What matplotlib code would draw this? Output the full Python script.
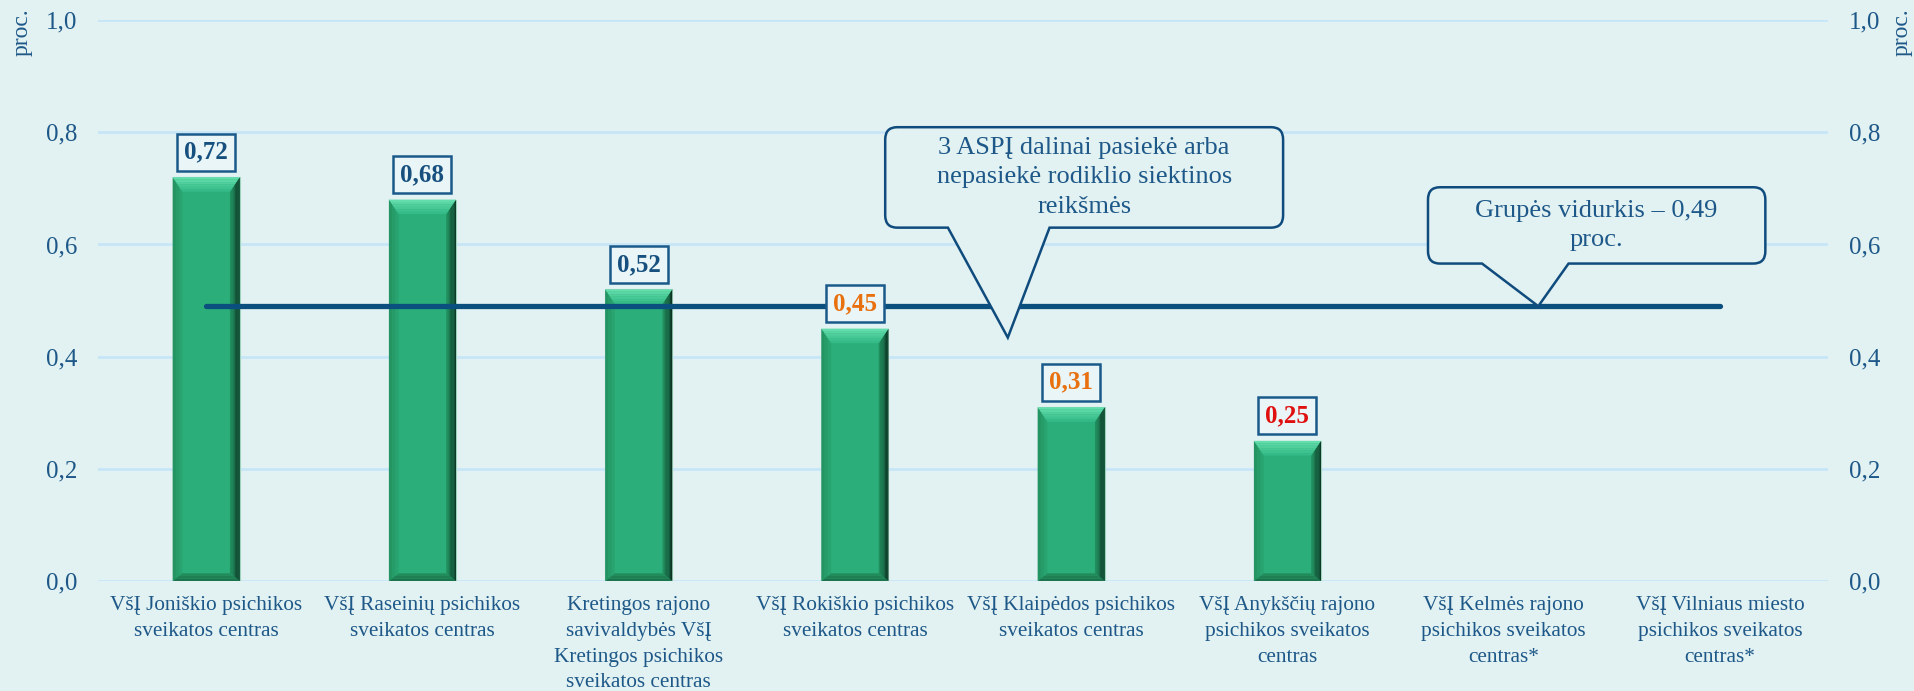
import numpy as np
import matplotlib
matplotlib.use("Agg")
import matplotlib.pyplot as plt
from matplotlib.path import Path
from matplotlib.patches import PathPatch, Polygon
from matplotlib.colors import to_rgb

plt.rcParams['font.family'] = ['Liberation Serif', 'DejaVu Serif']

# data
categories = [
    "VšĮ Joniškio psichikos\nsveikatos centras",
    "VšĮ Raseinių psichikos\nsveikatos centras",
    "Kretingos rajono\nsavivaldybės VšĮ\nKretingos psichikos\nsveikatos centras",
    "VšĮ Rokiškio psichikos\nsveikatos centras",
    "VšĮ Klaipėdos psichikos\nsveikatos centras",
    "VšĮ Anykščių rajono\npsichikos sveikatos\ncentras",
    "VšĮ Kelmės rajono\npsichikos sveikatos\ncentras*",
    "VšĮ Vilniaus miesto\npsichikos sveikatos\ncentras*",
]
values = [0.72, 0.68, 0.52, 0.45, 0.31, 0.25, np.nan, np.nan]
value_labels = ["0,72", "0,68", "0,52", "0,45", "0,31", "0,25", "", ""]
label_status = ["ok", "ok", "ok", "warn", "warn", "bad", "", ""]
group_avg = 0.49
yticks = [0.0, 0.2, 0.4, 0.6, 0.8, 1.0]
ytick_labels = ["0,0", "0,2", "0,4", "0,6", "0,8", "1,0"]
note_low = "3 ASPĮ dalinai pasiekė arba\nnepasiekė rodiklio siektinos\nreikšmės"
note_avg = "Grupės vidurkis – 0,49\nproc."

BG = "#e2f1f2"
TXT = "#1d5888"
DARK = "#0f4c7d"
status_colors = {"ok": "#17507f", "warn": "#e8700e", "bad": "#e01010"}


def mix(c1, c2, t):
    a, b = np.array(to_rgb(c1)), np.array(to_rgb(c2))
    return tuple(a + (b - a) * t)


def shaded_quad(ax, outer, inner, c_in, c_out, n=6):
    # outer / inner: two points each (edge segments), banded gradient between them
    o0, o1 = np.array(outer[0]), np.array(outer[1])
    i0, i1 = np.array(inner[0]), np.array(inner[1])
    for k in range(n):
        t0, t1 = k / n, (k + 1) / n
        p0 = i0 + (o0 - i0) * t0
        p1 = i1 + (o1 - i1) * t0
        q0 = i0 + (o0 - i0) * t1
        q1 = i1 + (o1 - i1) * t1
        ax.add_patch(Polygon([p0, p1, q1, q0], closed=True, lw=0,
                             fc=mix(c_in, c_out, (t0 + t1) / 2), zorder=2.1))


def callout(ax, box, base, tip, text, r=(0.055, 0.022)):
    x0, x1, y0, y1 = box
    rx, ry = r
    verts = [(x0 + rx, y1), (x1 - rx, y1), (x1, y1), (x1, y1 - ry),
             (x1, y0 + ry), (x1, y0), (x1 - rx, y0),
             (base[1], y0), tip, (base[0], y0),
             (x0 + rx, y0), (x0, y0), (x0, y0 + ry),
             (x0, y1 - ry), (x0, y1), (x0 + rx, y1), (x0 + rx, y1)]
    codes = [Path.MOVETO, Path.LINETO, Path.CURVE3, Path.CURVE3,
             Path.LINETO, Path.CURVE3, Path.CURVE3,
             Path.LINETO, Path.LINETO, Path.LINETO,
             Path.LINETO, Path.CURVE3, Path.CURVE3,
             Path.LINETO, Path.CURVE3, Path.CURVE3, Path.CLOSEPOLY]
    ax.add_patch(PathPatch(Path(verts, codes), fc=BG, ec=DARK, lw=1.8, zorder=5))
    ax.text((x0 + x1) / 2, (y0 + y1) / 2, text, ha="center", va="center",
            fontsize=19, color=TXT, linespacing=1.45, zorder=6)


fig = plt.figure(figsize=(19.15, 6.91), dpi=100)
fig.patch.set_facecolor(BG)
ax = fig.add_axes([0.0512, 0.159, 0.9034, 0.812])
ax.set_facecolor(BG)

x = np.arange(len(categories))
bars = ax.bar(x, values, width=0.31, color="#2bae79", edgecolor="#9fd3bd",
              linewidth=0.8, zorder=2)

# bevel look on each bar
bx, by_top, by_bot = 0.045, 0.026, 0.014
for p in bars.patches:
    h = p.get_height()
    if not np.isfinite(h) or h <= 0:
        continue
    x0, w = p.get_x(), p.get_width()
    xa, xb = x0, x0 + w
    # left
    shaded_quad(ax, [(xa, h), (xa, 0)], [(xa + bx, h - by_top), (xa + bx, by_bot)],
                "#2aa873", "#22905f", n=3)
    # right
    shaded_quad(ax, [(xb, h), (xb, 0)], [(xb - bx, h - by_top), (xb - bx, by_bot)],
                "#239461", "#0a2e1f", n=8)
    # bottom
    shaded_quad(ax, [(xa, 0), (xb, 0)], [(xa + bx, by_bot), (xb - bx, by_bot)],
                "#24925f", "#1a6e49", n=3)
    # top
    shaded_quad(ax, [(xa, h), (xb, h)], [(xa + bx, h - by_top), (xb - bx, h - by_top)],
                "#31b884", "#66e0ae", n=6)

# group average line
ax.plot(x, [group_avg] * len(x), color="#0b4f7e", lw=3.8,
        solid_capstyle="round", zorder=3)

# value labels
for xi, v, lab, st in zip(x, values, value_labels, label_status):
    if not lab:
        continue
    ax.annotate(lab, (xi, v), xytext=(0, 18), textcoords="offset points",
                ha="center", va="center", fontsize=18, fontweight="bold",
                color=status_colors[st], zorder=4,
                bbox=dict(boxstyle="square,pad=0.28", fc="#e9f5f6", ec="#1a5a8a", lw=1.8))

# callouts
callout(ax, (3.14, 4.98, 0.630, 0.809), (3.43, 3.90), (3.707, 0.434), note_low)
callout(ax, (5.65, 7.21, 0.566, 0.702), (5.90, 6.30), (6.16, group_avg), note_avg)

ax.set_xlim(-0.5, len(categories) - 0.5)
ax.set_ylim(0, 1.0)
ax.set_yticks(yticks)
ax.set_yticklabels(ytick_labels)
ax.set_xticks(x)
ax.set_xticklabels(categories, fontsize=15.3, color=TXT, linespacing=1.47)
ax.tick_params(axis="x", length=0, pad=11)
ax.tick_params(axis="y", length=0, pad=15, labelsize=18, labelcolor=TXT,
               labelleft=True, labelright=True)
ax.grid(axis="y", color="#c6e6f8", lw=2.0, zorder=0)
ax.set_axisbelow(True)
for s in ax.spines.values():
    s.set_visible(False)

ax.text(-0.044, 1.021, "proc.", transform=ax.transAxes, rotation=90,
        ha="center", va="top", fontsize=17, color=TXT)
ax.text(1.043, 1.021, "proc.", transform=ax.transAxes, rotation=90,
        ha="center", va="top", fontsize=17, color=TXT)

fig.savefig("out.png", dpi=100, facecolor=BG)
